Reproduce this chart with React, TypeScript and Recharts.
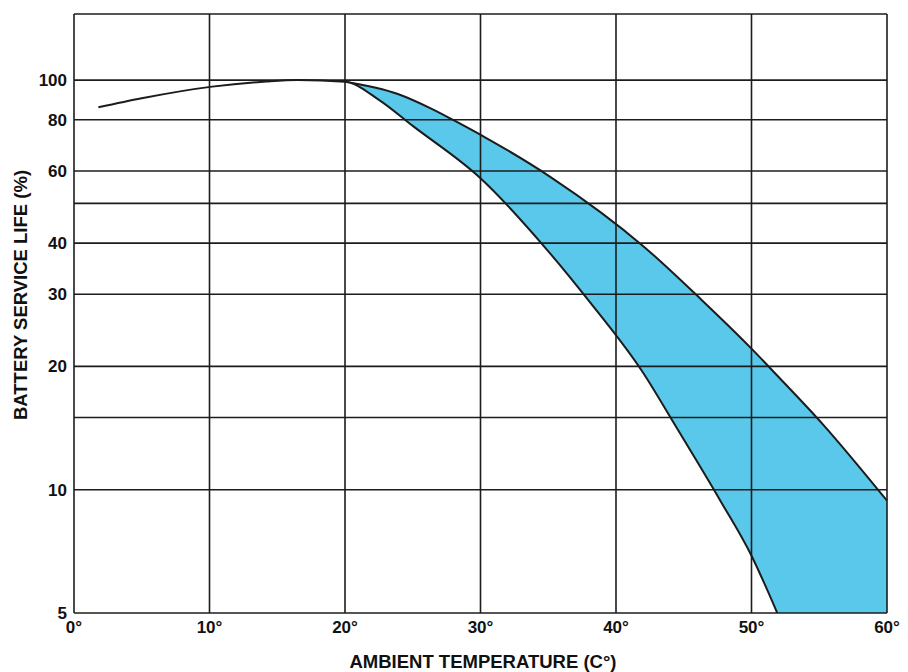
import React from 'react';
import { ComposedChart, Area, XAxis, YAxis, ReferenceLine, Label } from 'recharts';

// single curve before the band splits (temperature °C, life %)
const EARLY_TEMPS = [1.8, 5, 10.2, 14.2, 16.5];
const EARLY_LIFE = [85.8, 90.3, 96.4, 99.2, 100];

// upper edge of the band
const HIGH_TEMPS = [20, 23.9, 26.4, 28.7, 30.3, 35.2, 42.1, 46.3, 50, 51.7, 55.3, 60];
const HIGH_LIFE = [99.1, 92.5, 85.1, 77.6, 72.6, 57.9, 39.1, 29.1, 22.1, 19.3, 14.4, 9.4];

// lower edge of the band
const LOW_TEMPS = [20, 22.5, 25, 30, 34.8, 38, 42, 44.4, 47.7, 50, 51.9];
const LOW_LIFE = [99.1, 89.5, 77.3, 57.6, 38.9, 28.9, 19.3, 14.3, 9.4, 6.9, 5];

const X_TICKS = [0, 10, 20, 30, 40, 50, 60];
const Y_TICKS = [5, 10, 15, 20, 30, 40, 50, 60, 80, 100];
const Y_HIDDEN = [15, 50];
const Y_MIN = 5;
const Y_MAX = 145;

const INK = '#1c1c1c';
const FILL = '#5ac8ea';
const FONT = '"Liberation Sans", Arial, Helvetica, sans-serif';

const highData = HIGH_TEMPS.map((t, i) => ({ temp: t, life: HIGH_LIFE[i] }));
// everything under the lower edge (early curve included) is blanked out
const lowData = [
  ...EARLY_TEMPS.map((t, i) => ({ temp: t, life: EARLY_LIFE[i] })),
  ...LOW_TEMPS.map((t, i) => ({ temp: t, life: LOW_LIFE[i] })),
];

const tickStyle = { fill: '#111', fontSize: 17, fontWeight: 700, fontFamily: FONT };

const App: React.FC = () => {
  return (
    <ComposedChart
      width={892}
      height={664}
      margin={{ top: 6, right: 13, bottom: 0, left: 4 }}
    >
      <XAxis
        dataKey="temp"
        type="number"
        domain={[0, 60]}
        ticks={X_TICKS}
        tickFormatter={(v: number) => `${v}°`}
        tick={tickStyle}
        tickLine={false}
        tickMargin={2}
        axisLine={false}
        height={59}
      >
        <Label
          content={() => (
            <text x={475} y={660} textAnchor="middle" fill="#111" fontSize={18.5} fontWeight={700} fontFamily={FONT}>
              AMBIENT TEMPERATURE (C°)
            </text>
          )}
        />
      </XAxis>
      <YAxis
        type="number"
        scale="log"
        domain={[Y_MIN, Y_MAX]}
        allowDataOverflow
        ticks={Y_TICKS}
        interval={0}
        tickFormatter={(v: number) => (Y_HIDDEN.includes(v) ? '' : String(v))}
        tick={tickStyle}
        tickLine={false}
        tickMargin={1}
        axisLine={false}
        width={62}
      >
        <Label
          content={() => (
            <text
              x={12}
              y={287}
              transform="rotate(-90, 12, 287)"
              textAnchor="middle"
              dominantBaseline="central"
              fill="#111"
              fontSize={18.5}
              fontWeight={700}
              fontFamily={FONT}
            >
              BATTERY SERVICE LIFE (%)
            </text>
          )}
        />
      </YAxis>
      <Area
        data={highData}
        type="monotone"
        dataKey="life"
        baseValue={Y_MIN}
        stroke={INK}
        strokeWidth={2}
        fill={FILL}
        fillOpacity={1}
        isAnimationActive={false}
      />
      <Area
        data={lowData}
        type="monotone"
        dataKey="life"
        baseValue={Y_MIN}
        stroke={INK}
        strokeWidth={2}
        fill="#ffffff"
        fillOpacity={1}
        isAnimationActive={false}
      />
      {X_TICKS.map((t) => (
        <ReferenceLine key={`vx-${t}`} x={t} stroke={INK} strokeWidth={1.6} />
      ))}
      {[...Y_TICKS, Y_MAX].map((v) => (
        <ReferenceLine key={`hy-${v}`} y={v} stroke={INK} strokeWidth={1.6} />
      ))}
    </ComposedChart>
  );
};

export default App;
